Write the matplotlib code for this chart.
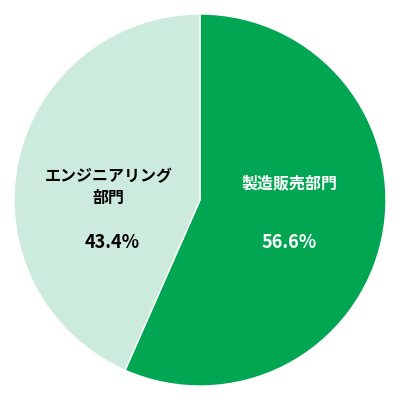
import matplotlib
matplotlib.use("Agg")
from matplotlib import pyplot as plt

plt.rcParams['font.family'] = ['Noto Sans CJK JP', 'DejaVu Sans']

labels = ["製造販売部門", "エンジニアリング\n部門"]
values = [56.6, 43.4]
colors = ["#00A651", "#CDEBDD"]
text_colors = ["white", "black"]

fig = plt.figure(figsize=(4, 4), dpi=100)
ax = fig.add_axes([0, 0, 1, 1])
wedges, _ = ax.pie(values, colors=colors, startangle=90, counterclock=False,
                   radius=1, wedgeprops=dict(edgecolor="white", linewidth=1))

# label positions (data coords, radius 1 ~ 186 px)
name_pos = [(0.48, 0.09), (-0.49, 0.07)]
pct_pos = [(0.48, -0.23), (-0.47, -0.23)]
for lab, val, c, npos, ppos in zip(labels, values, text_colors, name_pos, pct_pos):
    ax.text(*npos, lab, ha="center", va="center", color=c, fontsize=11.5,
            fontweight="bold", linespacing=1.4)
    ax.text(*ppos, f"{val}%", ha="center", va="center", color=c, fontsize=13,
            fontweight="bold")

lim = 200 / 186
ax.set_xlim(-lim, lim)
ax.set_ylim(-lim, lim)
ax.set_aspect("equal")
ax.axis("off")
fig.savefig("out.png", dpi=100, facecolor="white")
